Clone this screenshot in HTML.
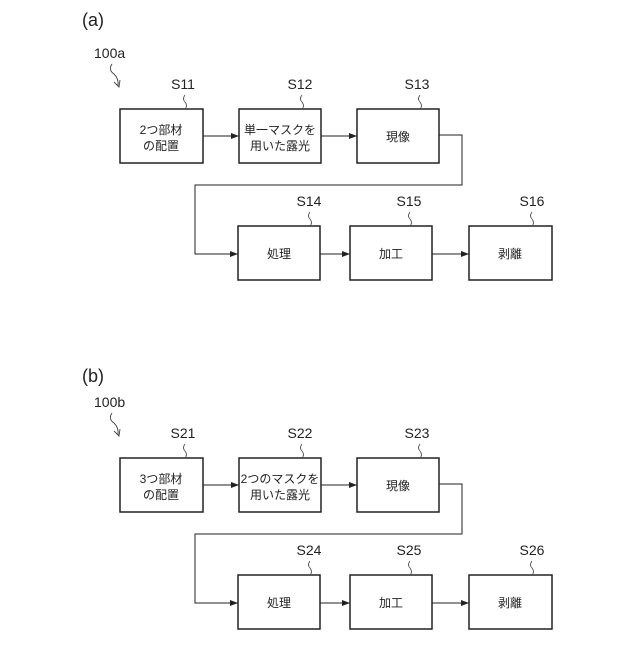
<!DOCTYPE html>
<html><head><meta charset="utf-8"><style>
body{margin:0;background:#fff}
text{font-family:"Liberation Sans","Noto Sans CJK JP",sans-serif;fill:#222}
</style></head><body>
<svg width="640" height="640" xmlns="http://www.w3.org/2000/svg">
<defs>
<marker id="ar" markerWidth="8" markerHeight="6" refX="8" refY="3" orient="auto" markerUnits="userSpaceOnUse"><path d="M0,0 L8,3 L0,6z" fill="#222"/></marker>
<g id="sq"><path d="M0,0 q-3,4 0,7 q3,4 0,7" fill="none" stroke="#444" stroke-width="0.8"/></g>
</defs>
<g id="A">
<text x="82" y="26" font-size="18">(a)</text>
<text x="94" y="58" font-size="14">100a</text>
<path d="M112,64 q-4,6 2,10 q5,5 4,12" fill="none" stroke="#444" stroke-width="0.9"/>
<path d="M114,82 l5,5 l1,-7" fill="none" stroke="#444" stroke-width="0.9"/>
<g fill="none" stroke="#222" stroke-width="1.5">
<rect x="120" y="109" width="83" height="54"/>
<rect x="239" y="109" width="82" height="54"/>
<rect x="357" y="109" width="82" height="54"/>
<rect x="238" y="226" width="82" height="54"/>
<rect x="350" y="226" width="82" height="54"/>
<rect x="469" y="226" width="83" height="54"/>
</g>
<g fill="none" stroke="#222" stroke-width="1">
<line x1="203" y1="136" x2="239" y2="136" marker-end="url(#ar)"/>
<line x1="321" y1="136" x2="357" y2="136" marker-end="url(#ar)"/>
<polyline points="439,135 462,135 462,185 195,185 195,254 238,254" marker-end="url(#ar)"/>
<line x1="320" y1="254" x2="350" y2="254" marker-end="url(#ar)"/>
<line x1="432" y1="254" x2="469" y2="254" marker-end="url(#ar)"/>
</g>
<use href="#sq" x="185" y="95"/><use href="#sq" x="302" y="95"/><use href="#sq" x="420" y="95"/>
<use href="#sq" x="310" y="212"/><use href="#sq" x="410" y="212"/><use href="#sq" x="532" y="212"/>
<g font-size="14" text-anchor="middle">
<text x="183" y="89">S11</text><text x="300" y="89">S12</text><text x="417" y="89">S13</text>
<text x="309" y="206">S14</text><text x="409" y="206">S15</text><text x="532" y="206">S16</text>
</g>
<g font-size="12" text-anchor="middle">
<text x="161" y="134">2つ部材</text><text x="161" y="150">の配置</text>
<text x="280" y="134">単一マスクを</text><text x="280" y="150">用いた露光</text>
<text x="398" y="141">現像</text>
<text x="279" y="258">処理</text><text x="391" y="258">加工</text><text x="510" y="258">剥離</text>
</g>
</g>
<g transform="translate(0,349)">
<text x="82" y="33" font-size="18">(b)</text>
<text x="94" y="58" font-size="14">100b</text>
<path d="M112,64 q-4,6 2,10 q5,5 4,12" fill="none" stroke="#444" stroke-width="0.9"/>
<path d="M114,82 l5,5 l1,-7" fill="none" stroke="#444" stroke-width="0.9"/>
<g fill="none" stroke="#222" stroke-width="1.5">
<rect x="120" y="109" width="83" height="54"/>
<rect x="239" y="109" width="82" height="54"/>
<rect x="357" y="109" width="82" height="54"/>
<rect x="238" y="226" width="82" height="54"/>
<rect x="350" y="226" width="82" height="54"/>
<rect x="469" y="226" width="83" height="54"/>
</g>
<g fill="none" stroke="#222" stroke-width="1">
<line x1="203" y1="136" x2="239" y2="136" marker-end="url(#ar)"/>
<line x1="321" y1="136" x2="357" y2="136" marker-end="url(#ar)"/>
<polyline points="439,135 462,135 462,185 195,185 195,254 238,254" marker-end="url(#ar)"/>
<line x1="320" y1="254" x2="350" y2="254" marker-end="url(#ar)"/>
<line x1="432" y1="254" x2="469" y2="254" marker-end="url(#ar)"/>
</g>
<use href="#sq" x="185" y="95"/><use href="#sq" x="302" y="95"/><use href="#sq" x="420" y="95"/>
<use href="#sq" x="310" y="212"/><use href="#sq" x="410" y="212"/><use href="#sq" x="532" y="212"/>
<g font-size="14" text-anchor="middle">
<text x="183" y="89">S21</text><text x="300" y="89">S22</text><text x="417" y="89">S23</text>
<text x="309" y="206">S24</text><text x="409" y="206">S25</text><text x="532" y="206">S26</text>
</g>
<g font-size="12" text-anchor="middle">
<text x="161" y="134">3つ部材</text><text x="161" y="150">の配置</text>
<text x="280" y="134">2つのマスクを</text><text x="280" y="150">用いた露光</text>
<text x="398" y="141">現像</text>
<text x="279" y="258">処理</text><text x="391" y="258">加工</text><text x="510" y="258">剥離</text>
</g>
</g>
</svg>
</body></html>
